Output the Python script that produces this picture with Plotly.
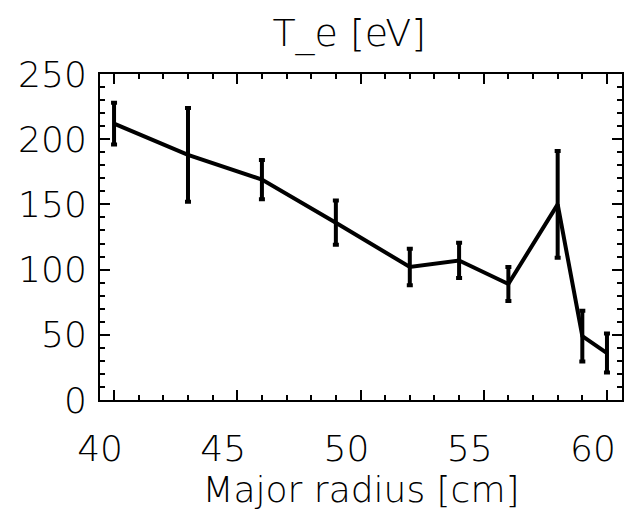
import plotly.graph_objects as go

# Data
radius_cm = [40, 43, 46, 49, 52, 54, 56, 58, 59, 60]
te_ev = [212, 188, 169, 136, 102, 107, 89, 150, 49, 36]
te_err = [16, 36, 15, 17, 14, 13.5, 13, 41, 19.5, 15]

x_ticks = [40, 45, 50, 55, 60]
y_ticks = [0, 50, 100, 150, 200, 250]

FONT = "DejaVu Sans"
W = 200

fig = go.Figure()
fig.add_trace(go.Scatter(
    x=radius_cm, y=te_ev, mode="lines",
    line=dict(color="black", width=4),
    error_y=dict(type="data", array=te_err, visible=True,
                 color="black", thickness=4, width=3),
    showlegend=False,
))

# page body has an 8px default margin, so the figure is sized 625x516
fig.update_layout(
    width=625, height=516,
    margin=dict(l=92, r=11, t=66, b=124),
    paper_bgcolor="white", plot_bgcolor="white",
    font=dict(family=FONT, size=36, color="black", weight=W),
    title=dict(text="T_e [eV]", x=0.546, xanchor="center",
               y=0.952, yanchor="middle", yref="container",
               font=dict(family=FONT, size=38, color="black", weight=W)),
)

fig.update_xaxes(
    range=[39.43, 60.61],
    automargin=False,
    tickvals=x_ticks, ticktext=[str(v) for v in x_ticks],
    ticks="inside", ticklen=10, tickwidth=2, tickcolor="black",
    minor=dict(ticks="inside", ticklen=5, tickwidth=2, dtick=1, tickcolor="black"),
    showline=True, linecolor="black", linewidth=2, mirror="ticks",
    showgrid=False, zeroline=False,
    ticklabelstandoff=16,
    ticklabelshift=-14,
    tickfont=dict(family=FONT, size=36, color="black", weight=W),
    title=dict(text="Major radius [cm]", standoff=7,
               font=dict(family=FONT, size=36, color="black", weight=W)),
)

fig.update_yaxes(
    range=[0, 250],
    automargin=False,
    tickvals=y_ticks, ticktext=[str(v) for v in y_ticks],
    ticks="inside", ticklen=10, tickwidth=2, tickcolor="black",
    minor=dict(ticks="inside", ticklen=5, tickwidth=2, dtick=10, tickcolor="black"),
    showline=True, linecolor="black", linewidth=2, mirror="ticks",
    showgrid=False, zeroline=False,
    ticklabelstandoff=4,
    tickfont=dict(family=FONT, size=36, color="black", weight=W),
)

fig.write_html("out.html")
